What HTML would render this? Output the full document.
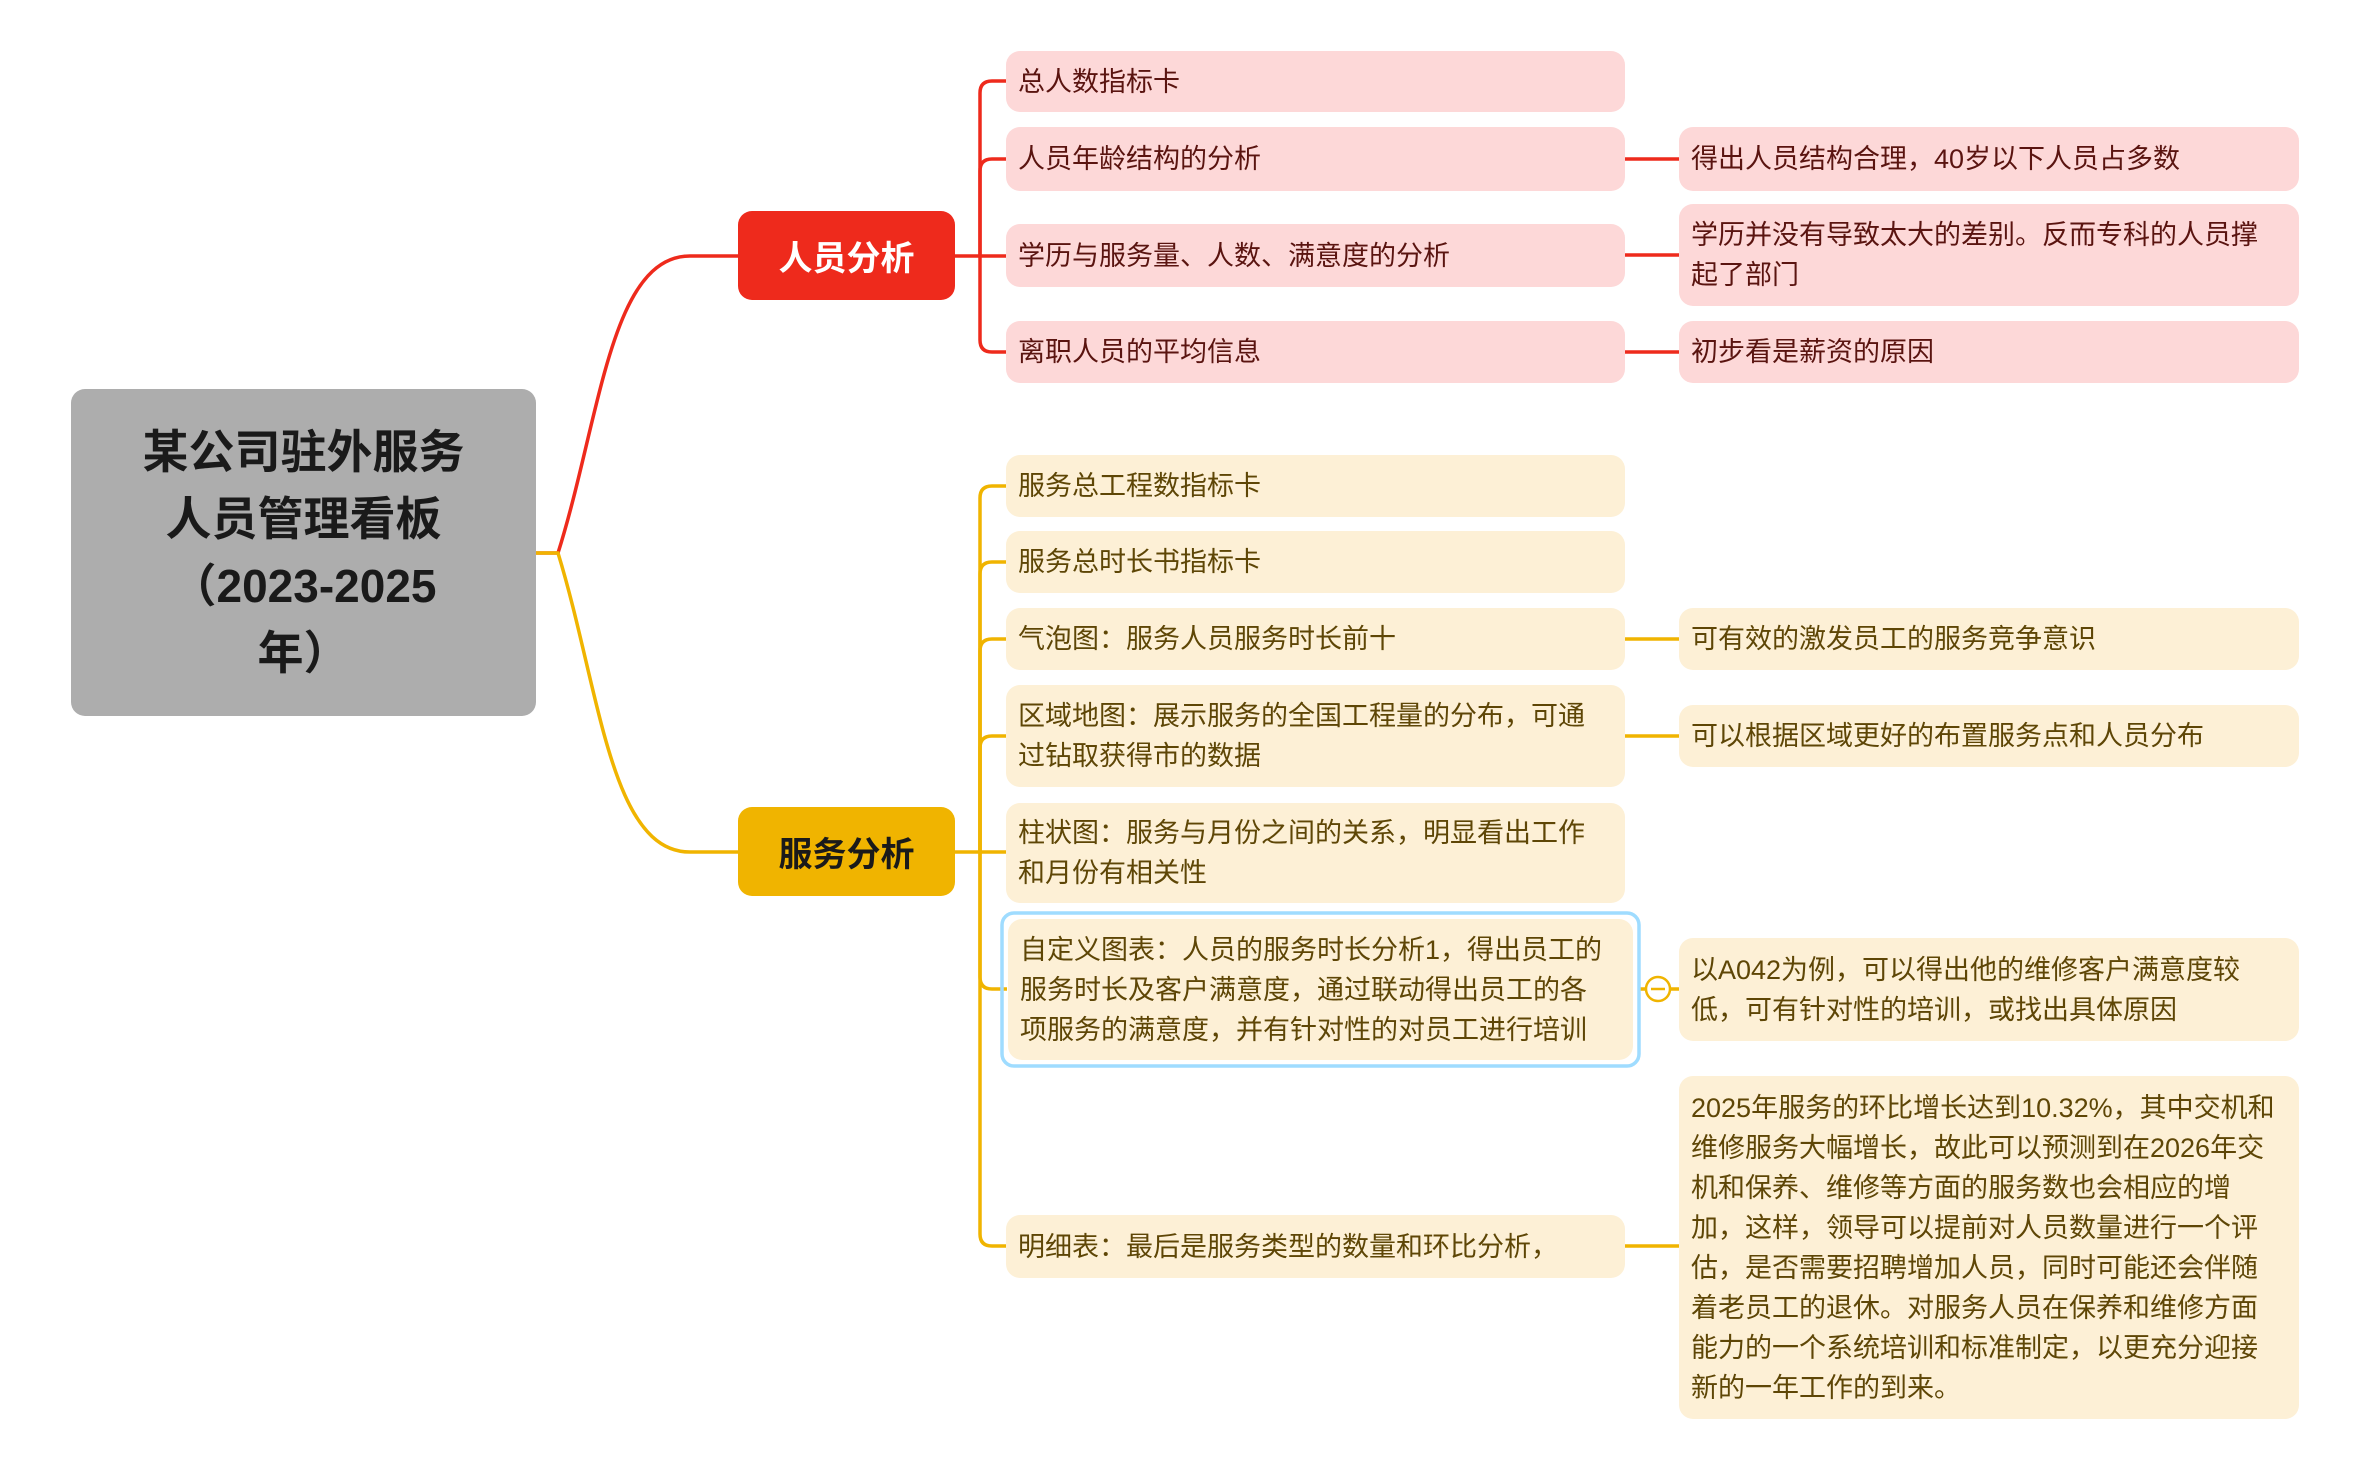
<!DOCTYPE html>
<html><head><meta charset="utf-8"><style>
body{margin:0;width:2360px;height:1476px;background:#fff;position:relative;overflow:hidden;font-family:"Liberation Sans","Noto Sans CJK SC",sans-serif}
.n{position:absolute;box-sizing:border-box;display:flex;align-items:center;border-radius:14px;padding:0 22px 0 12px;font-size:27px;line-height:40px}
.r{background:#fdd8d8;color:#5a1410}
.y{background:#fdf0d6;color:#5e4606}
.root{position:absolute;left:71px;top:389px;width:465px;height:327px;background:#adadad;border-radius:14px;display:flex;align-items:center;justify-content:center;text-align:center;font-size:46px;font-weight:bold;line-height:67px;color:#1a1a1a}
.m{position:absolute;left:738px;width:217px;height:89px;border-radius:14px;display:flex;align-items:center;justify-content:center;font-size:34px;font-weight:bold}
svg{position:absolute;left:0;top:0}
</style></head><body>
<svg width="2360" height="1476" fill="none" stroke-width="3.5">
<g stroke="#ee2a1c">
<path d="M536,553 L558,553 C600,420 610,256 690,256 L738,256"/>
<path d="M955,256 L980,256"/>
<path d="M980,256 L980,93 Q980,81 992,81 L1007,81"/>
<path d="M980,256 L980,171 Q980,159 992,159 L1007,159"/>
<path d="M980,256 L1007,256"/>
<path d="M980,256 L980,340 Q980,352 992,352 L1007,352"/>
<path d="M1625,159 L1679,159 M1625,255 L1679,255 M1625,352 L1679,352"/>
</g>
<g stroke="#f0b400">
<path d="M536,553 L558,553 C600,690 610,852 690,852 L738,852"/>
<path d="M955,852 L980,852"/>
<path d="M980,852 L980,498 Q980,486 992,486 L1007,486"/>
<path d="M980,852 L980,574 Q980,562 992,562 L1007,562"/>
<path d="M980,852 L980,651 Q980,639 992,639 L1007,639"/>
<path d="M980,852 L980,748 Q980,736 992,736 L1007,736"/>
<path d="M980,852 L1007,852"/>
<path d="M980,852 L980,977 Q980,989 992,989 L1007,989"/>
<path d="M980,852 L980,1234 Q980,1246 992,1246 L1007,1246"/>
<path d="M1625,639 L1679,639 M1625,736 L1679,736 M1640,989 L1646,989 M1670,989 L1679,989 M1625,1246 L1679,1246"/>
<circle cx="1658" cy="989" r="12" stroke-width="2.5" fill="#fff"/>
<path d="M1651,989 L1665,989" stroke-width="2.5"/>
</g>
<rect x="1002" y="913" width="637" height="153" rx="12" stroke="#9fdcff" stroke-width="3.5"/>
</svg>
<div class="root"><div>某公司驻外服务<br>人员管理看板<br>（2023-2025<br>年）</div></div>
<div class="m" style="top:211px;background:#ee2a1c;color:#fff">人员分析</div>
<div class="m" style="top:807px;background:#f0b400;color:#1a1a1a">服务分析</div>

<div class="n r" style="left:1006px;width:619px;top:51px;height:61px">总人数指标卡</div>
<div class="n r" style="left:1006px;width:619px;top:127px;height:64px">人员年龄结构的分析</div>
<div class="n r" style="left:1006px;width:619px;top:224px;height:63px">学历与服务量、人数、满意度的分析</div>
<div class="n r" style="left:1006px;width:619px;top:321px;height:62px">离职人员的平均信息</div>
<div class="n r" style="left:1679px;width:620px;top:127px;height:64px">得出人员结构合理，40岁以下人员占多数</div>
<div class="n r" style="left:1679px;width:620px;top:204px;height:102px">学历并没有导致太大的差别。反而专科的人员撑起了部门</div>
<div class="n r" style="left:1679px;width:620px;top:321px;height:62px">初步看是薪资的原因</div>

<div class="n y" style="left:1006px;width:619px;top:455px;height:62px">服务总工程数指标卡</div>
<div class="n y" style="left:1006px;width:619px;top:531px;height:62px">服务总时长书指标卡</div>
<div class="n y" style="left:1006px;width:619px;top:608px;height:62px">气泡图：服务人员服务时长前十</div>
<div class="n y" style="left:1006px;width:619px;top:685px;height:102px">区域地图：展示服务的全国工程量的分布，可通过钻取获得市的数据</div>
<div class="n y" style="left:1006px;width:619px;top:803px;height:100px">柱状图：服务与月份之间的关系，明显看出工作和月份有相关性</div>
<div class="n y" style="left:1008px;width:625px;top:919px;height:141px;padding-right:28px">自定义图表：人员的服务时长分析1，得出员工的服务时长及客户满意度，通过联动得出员工的各项服务的满意度，并有针对性的对员工进行培训</div>
<div class="n y" style="left:1006px;width:619px;top:1215px;height:63px">明细表：最后是服务类型的数量和环比分析，</div>
<div class="n y" style="left:1679px;width:620px;top:608px;height:62px">可有效的激发员工的服务竞争意识</div>
<div class="n y" style="left:1679px;width:620px;top:705px;height:62px">可以根据区域更好的布置服务点和人员分布</div>
<div class="n y" style="left:1679px;width:620px;top:938px;height:103px;padding-right:30px">以A042为例，可以得出他的维修客户满意度较低，可有针对性的培训，或找出具体原因</div>
<div class="n y" style="left:1679px;width:620px;top:1076px;height:343px;padding-right:16px">2025年服务的环比增长达到10.32%，其中交机和维修服务大幅增长，故此可以预测到在2026年交机和保养、维修等方面的服务数也会相应的增加，这样，领导可以提前对人员数量进行一个评估，是否需要招聘增加人员，同时可能还会伴随着老员工的退休。对服务人员在保养和维修方面能力的一个系统培训和标准制定，以更充分迎接新的一年工作的到来。</div>
</body></html>
